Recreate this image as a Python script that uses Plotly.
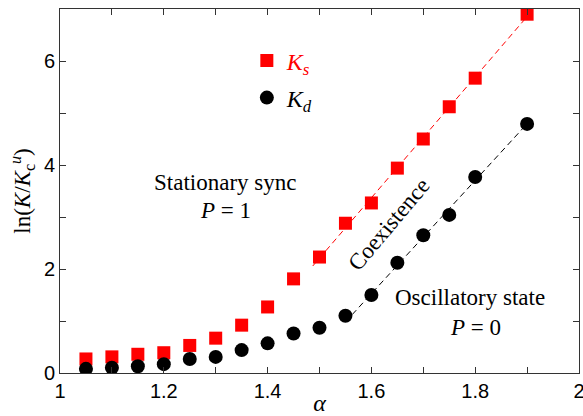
import numpy as np
import plotly.graph_objects as go

alpha = [1.05, 1.10, 1.15, 1.20, 1.25, 1.30, 1.35, 1.40, 1.45, 1.50,
         1.55, 1.60, 1.65, 1.70, 1.75, 1.80, 1.90]
ks = [0.27, 0.31, 0.36, 0.39, 0.53, 0.67, 0.92, 1.27, 1.81, 2.23,
      2.88, 3.27, 3.94, 4.50, 5.12, 5.67, 6.90]
kd = [0.08, 0.10, 0.13, 0.17, 0.27, 0.31, 0.44, 0.57, 0.76, 0.87,
      1.10, 1.50, 2.12, 2.65, 3.04, 3.77, 4.79]

# linear fits shown as dashed lines
ks_fit_from, ks_fit_range = 1.5, (1.487, 1.905)
kd_fit_from, kd_fit_range = 1.6, (1.563, 1.9)

a = np.array(alpha)
def fit(vals, start, rng):
    v = np.array(vals)
    m = a >= start - 1e-9
    p = np.polyfit(a[m], v[m], 1)
    xs = np.array(rng)
    return xs, np.polyval(p, xs)

serif = "Liberation Serif"
sans = "Liberation Sans"
axc = "#333"

fig = go.Figure()
xs, ys = fit(ks, ks_fit_from, ks_fit_range)
fig.add_trace(go.Scatter(x=xs, y=ys, mode="lines", showlegend=False,
                         line=dict(color="#ff0000", width=1, dash="6px,4px")))
xd, yd = fit(kd, kd_fit_from, kd_fit_range)
fig.add_trace(go.Scatter(x=xd, y=yd, mode="lines", showlegend=False,
                         line=dict(color="black", width=1, dash="6px,4px")))

fig.add_trace(go.Scatter(x=alpha, y=ks, mode="markers", name="<i>K</i><sub><i>s</i></sub>",
                         marker=dict(symbol="square", size=13, color="#ff0000",
                                     line=dict(width=0)), legend="legend"))
fig.add_trace(go.Scatter(x=alpha, y=kd, mode="markers", name="<i>K</i><sub><i>d</i></sub>",
                         marker=dict(symbol="circle", size=14, color="black",
                                     line=dict(width=0)), legend="legend2"))

ax_common = dict(showline=True, linecolor=axc, linewidth=1, mirror="allticks",
                 ticks="inside", ticklen=6, tickcolor=axc, showgrid=False,
                 zeroline=False, ticklabeloverflow="allow", automargin=False,
                 tickfont=dict(family=sans, size=20, color="black"))

fig.update_xaxes(range=[1, 2], dtick=0.2,
                 minor=dict(dtick=0.1, ticks="inside", ticklen=6, tickcolor=axc),
                 title=dict(text="<i>α</i>", font=dict(family=serif, size=24, color="black"),
                            standoff=3),
                 **ax_common)
fig.update_yaxes(range=[0, 7], dtick=2,
                 minor=dict(dtick=1, ticks="inside", ticklen=6, tickcolor=axc),
                 title=dict(text="ln(<i>K</i>/<i>K</i><sub>c</sub><sup><i>u</i></sup>)",
                            font=dict(family=serif, size=23, color="black"), standoff=6),
                 **ax_common)

ann_font = dict(family=serif, size=23, color="black")
fig.add_annotation(x=1.318, y=3.67, text="Stationary sync", showarrow=False, font=ann_font)
fig.add_annotation(x=1.318, y=3.12, text="<i>P</i> = 1", showarrow=False, font=ann_font)
fig.add_annotation(x=1.634, y=2.85, text="Coexistence", showarrow=False, font=ann_font,
                   textangle=-50)
fig.add_annotation(x=1.79, y=1.46, text="Oscillatory state", showarrow=False, font=ann_font)
fig.add_annotation(x=1.80, y=0.87, text="<i>P</i> = 0", showarrow=False, font=ann_font)

fig.update_layout(
    width=583, height=416,
    margin=dict(l=60, r=4, t=9, b=43),
    plot_bgcolor="white", paper_bgcolor="white",
    legend=dict(x=0.36, y=(373 - 61) / 364, xanchor="left", yanchor="middle",
                bgcolor="rgba(0,0,0,0)", font=dict(family=serif, size=24, color="#ff0000")),
    legend2=dict(x=0.36, y=(373 - 98) / 364, xanchor="left", yanchor="middle",
                 bgcolor="rgba(0,0,0,0)", font=dict(family=serif, size=24, color="black")),
)

fig.write_html("out.html")
